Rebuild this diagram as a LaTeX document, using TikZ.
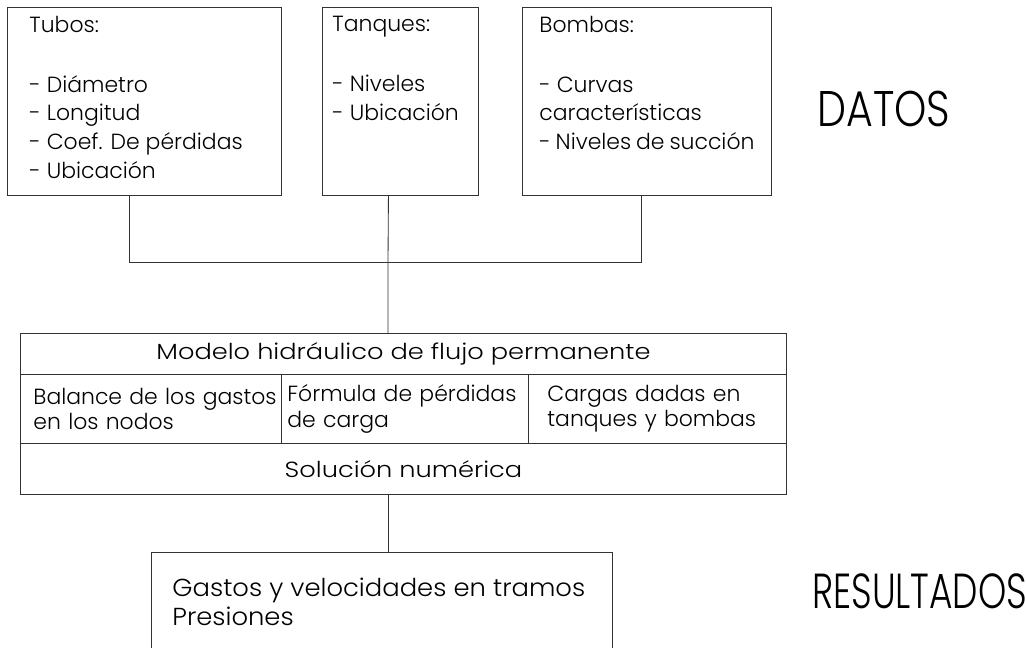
\documentclass[tikz,border=0pt]{standalone}
\usepackage{fontspec}
\setmainfont{Poppins Light}
\newfontfamily\anchafont{Poppins Light}[FakeStretch=1.17]
\newfontfamily\gastosfont{Poppins Light}[FakeStretch=1.05]
\newfontfamily\rotulofont{Poppins Light}[FakeStretch=0.82]
\newfontfamily\estrechafont{Poppins Light}[FakeStretch=0.73]
\usetikzlibrary{positioning}
\tikzset{
  box/.style={draw=black!80, line width=0.6pt, rectangle, anchor=north west, inner sep=0pt},
  boxfont/.style={font=\fontsize{15.6}{20.3}\selectfont},
  cell/.style={draw=black!80, line width=0.6pt, rectangle, anchor=north west, align=left,
    minimum height=1.725cm, font=\fontsize{15.6}{17.8}\selectfont},
  banner/.style={draw=black!80, line width=0.6pt, rectangle, anchor=north west,
    minimum width=19.15cm, font=\anchafont\fontsize{15.6}{17.8}\selectfont},
  tag/.style={anchor=base west, inner sep=0pt, font=\rotulofont\fontsize{35.6}{40}\selectfont},
  link/.style={draw=black!80, line width=0.6pt}
}

\begin{document}
\begin{tikzpicture}[x=0.025cm, y=-0.025cm]
  \useasboundingbox (0,0) rectangle (1026,647);

  % datos de entrada
  \node[box, boxfont, inner xsep=0.55cm, inner ysep=0.225cm] (tubos) at (7,7)
    {\parbox[t][4.25cm][t]{5.75cm}{Tubos:\\[0.78cm]- Diámetro\\- Longitud\\- Coef. De pérdidas\\- Ubicación}};
  \node[box, boxfont, inner xsep=0.25cm, inner ysep=0.225cm] (tanques) at (322,7)
    {\parbox[t][4.25cm][t]{3.4cm}{Tanques:\\[0.78cm]- Niveles\\- Ubicación}};
  \node[box, boxfont, inner xsep=0.425cm, inner ysep=0.225cm] (bombas) at (522,7)
    {\parbox[t][4.25cm][t]{5.375cm}{Bombas:\\[0.78cm]- Curvas\\características\\- Niveles de succión}};
  \node[tag] (datos) at (817,126) {DATOS};

  % modelo
  \node[banner, minimum height=1.025cm] (modelo) at (20,333) {Modelo hidráulico de flujo permanente};
  \node[cell, text width=5.875cm, inner xsep=0.325cm] (balance) at (20,374) {\mbox{Balance de los gastos}\\en los nodos};
  \node[cell, text width=5.875cm, inner xsep=0.15cm] (formula) at (281,374) {\mbox{Fórmula de pérdidas}\\de carga};
  \node[cell, text width=5.5cm, inner xsep=0.475cm] (cargas) at (528,374) {\mbox{Cargas dadas en}\\tanques y bombas};
  \node[banner, minimum height=1.275cm] (solucion) at (20,443) {Solución numérica};

  % resultados
  \node[box, draw=none, font=\gastosfont\fontsize{17.5}{20.6}\selectfont, inner xsep=0.525cm, inner ysep=0.65cm] (resultados) at (151,552)
    {\parbox[t][1.3cm][t]{10.45cm}{Gastos y velocidades en tramos\\Presiones}};
  \draw[link] (resultados.south west) |- (resultados.north east) -- (resultados.south east);
  \node[tag, font=\estrechafont\fontsize{35}{40}\selectfont] (result) at (812,608) {RESULTADOS};

  \coordinate (junta) at (388,262);
  \draw[link] ([xshift=-0.375cm]tubos.south) |- (junta);
  \draw[link] ([xshift=-0.1375cm]bombas.south) |- (junta);
  \draw[link] ([xshift=-0.3cm]tanques.south) -- (junta) -- (junta |- modelo.north);
  \draw[link] (junta |- solucion.south) -- (junta |- resultados.north);
\end{tikzpicture}
\end{document}
